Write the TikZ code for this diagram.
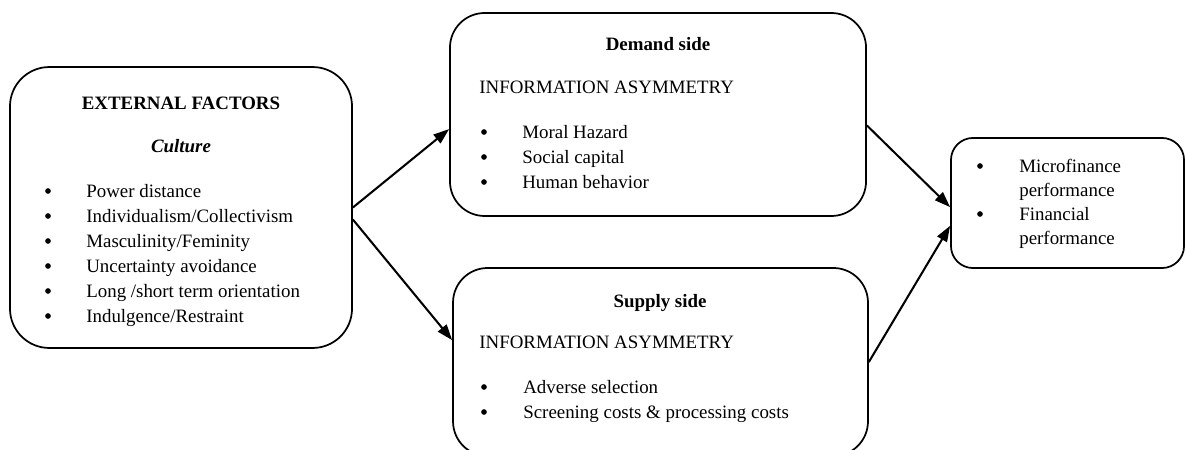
\documentclass[tikz,border=0pt]{standalone}
\usepackage{fontspec}
\setmainfont{Liberation Serif}
\usetikzlibrary{arrows.meta}
\tikzset{box/.style={draw, rectangle, line width=1.1pt, inner sep=0pt},
         head/.style={anchor=base, inner sep=0pt, font=\fontsize{12}{14}\selectfont\bfseries},
         txt/.style={anchor=base west, inner sep=0pt},
         dot/.style={circle, fill, inner sep=0pt, minimum size=3.6pt},
         arrow/.style={-{Triangle[length=10pt, width=7pt]}, line width=1.3pt}}

\begin{document}
\begin{tikzpicture}[x=0.635pt, y=-0.635pt, font=\fontsize{12}{14}\selectfont]
    \clip (0,0) rectangle (1186,450);

    % External factors
    \node[box, rounded corners=25pt, minimum width=217.2pt, minimum height=178.4pt] (ext) at (181,207.5) {};
    \node[head] (ext-title) at (181,109) {EXTERNAL FACTORS};
    \node[head, font=\fontsize{12}{14}\selectfont\bfseries\itshape] (ext-sub) at (181,152) {Culture};
    \foreach \t [count=\i] in {Power distance, Individualism/Collectivism, Masculinity/Feminity,
                              Uncertainty avoidance, Long /short term orientation, Indulgence/Restraint} {
        \node[dot] (ext-b\i) at (48,166+25*\i) {};
        \node[txt] (ext-i\i) at (86,172+25*\i) {\t};
    }

    % Demand side
    \node[box, rounded corners=22pt, minimum width=264.2pt, minimum height=128.9pt] (demand) at (658,114.5) {};
    \node[head] (demand-title) at (658,50) {Demand side};
    \node[txt] (demand-info) at (479,93) {INFORMATION ASYMMETRY};
    \foreach \t [count=\i] in {Moral Hazard, Social capital, Human behavior} {
        \node[dot] (demand-b\i) at (484,107+25*\i) {};
        \node[txt] (demand-i\i) at (522,113+25*\i) {\t};
    }

    % Supply side
    \node[box, rounded corners=22pt, minimum width=263.5pt, minimum height=119.4pt] (supply) at (660.5,362) {};
    \node[head] (supply-title) at (660,307) {Supply side};
    \node[txt] (supply-info) at (479,348) {INFORMATION ASYMMETRY};
    \foreach \t [count=\i] in {Adverse selection, Screening costs \& processing costs} {
        \node[dot] (supply-b\i) at (484,362+25*\i) {};
        \node[txt] (supply-i\i) at (523,368+25*\i) {\t};
    }

    % Performance
    \node[box, rounded corners=14pt, minimum width=148pt, minimum height=82.6pt] (perf) at (1067.5,203) {};
    \node[dot] (perf-b1) at (980,166) {};
    \node[txt] (perf-i1) at (1019,172) {Microfinance};
    \node[txt] (perf-i2) at (1019,196) {performance};
    \node[dot] (perf-b2) at (980,214) {};
    \node[txt] (perf-i3) at (1019,220) {Financial};
    \node[txt] (perf-i4) at (1019,244) {performance};

    % Arrows
    \draw[arrow] (ext.east) -- (demand.184);
    \draw[arrow] (ext.-4) -- (supply.174);
    \draw[arrow] (demand.-3) -- (perf.182);
    \draw[arrow] (supply.east) -- (perf.191);
\end{tikzpicture}
\end{document}
